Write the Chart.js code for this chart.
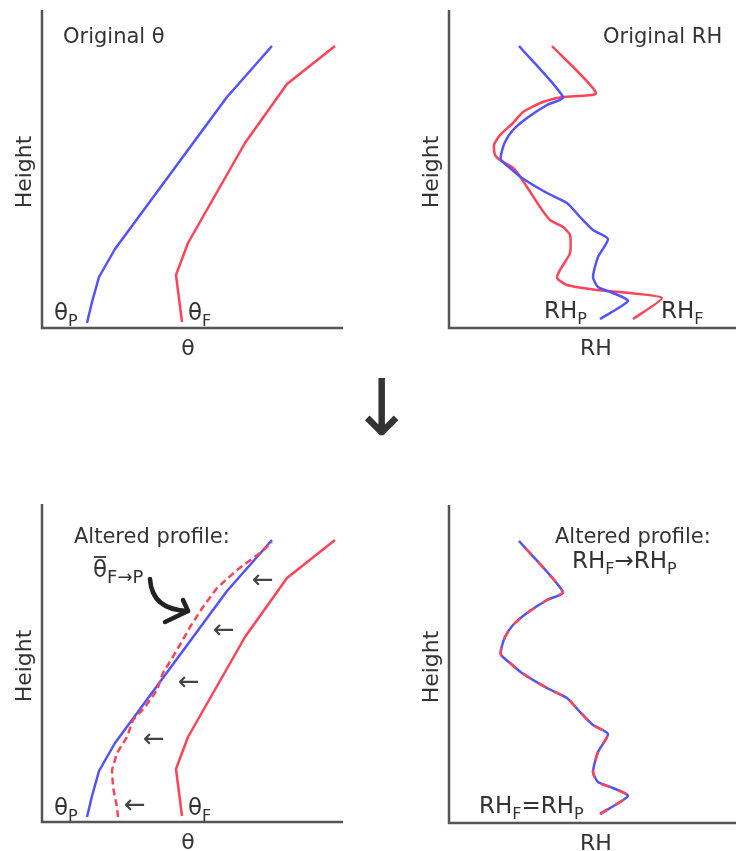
<!DOCTYPE html>
<html>
<head>
<meta charset="utf-8">
<script src="https://cdn.jsdelivr.net/npm/chart.js@4/dist/chart.umd.min.js"></script>
<style>
body { margin: 0; background: #fff; width: 736px; height: 851px; position: relative; overflow: hidden; font-family: "DejaVu Sans"; }
canvas { position: absolute; }
#down { position: absolute; left: 349px; top: 358px; width: 60px; text-align: center; font-size: 78px; line-height: 100px; color: #333; }
</style>
</head>
<body>
<canvas id="thetaOrig" width="368" height="360" style="left:0;top:0"></canvas>
<canvas id="rhOrig" width="368" height="360" style="left:368px;top:0"></canvas>
<div id="down">↓</div>
<canvas id="thetaAlt" width="368" height="361" style="left:0;top:490px"></canvas>
<canvas id="rhAlt" width="368" height="361" style="left:368px;top:490px"></canvas>
<script>
// profiles: x = value measured from the left axis, h = height above the bottom axis
const thetaP_x = [45, 50, 57, 73, 185, 230];
const thetaP_h = [5, 26, 51, 79, 231, 282];
const thetaF_x = [140, 134, 146, 203, 245, 293];
const thetaF_h = [6, 53, 85, 185, 244, 282];
// theta of the F profile shifted onto P (dashed)
const thetaFP_x = [76, 75, 71, 70, 75, 85, 91, 103, 115, 121, 135, 148, 161, 175, 195, 218, 230];
const thetaFP_h = [5, 15, 35, 52, 69, 85, 102, 115, 132, 149, 172, 195, 215, 234, 252, 269, 280];

const rhP_x = [151, 179, 164, 149, 144, 149, 159, 144, 131, 118, 98, 73, 61, 52, 52, 56, 64, 78, 98, 114, 70];
const rhP_h = [9, 27, 35, 41, 51, 71, 89, 98, 111, 125, 135, 150, 160, 168, 173, 186, 198, 210, 223, 231, 282];
const rhF_x = [184, 213, 181, 148, 118, 108, 111, 121, 121, 114, 101, 91, 78, 68, 63, 51, 46, 45, 51, 64, 74, 94, 114, 147, 103];
const rhF_h = [9, 30, 35, 38, 43, 50, 58, 75, 93, 101, 108, 121, 141, 156, 161, 168, 173, 183, 193, 205, 216, 226, 231, 235, 282];

// little shift arrows in the altered theta panel
const shiftArrow_x = [221, 182, 147, 112, 93];
const shiftArrow_h = [241, 191, 139, 82, 16];

const BLUE = '#5252ff';
const RED = '#ff4458';
const INK = '#333';
const FONT = '"DejaVu Sans"';

function pts(xs, hs) {
  return xs.map((x, i) => ({ x: x, y: hs[i] }));
}

function at(chart, x, y) {
  return [chart.scales.x.getPixelForValue(x), chart.scales.y.getPixelForValue(y)];
}

// text with subscripts: parts starting with "_" are subscripted
function rich(ctx, x, y, parts, size, subSize) {
  let cx = x;
  parts.forEach(p => {
    const sub = p.startsWith('_');
    const t = sub ? p.slice(1) : p;
    ctx.font = (sub ? subSize : size) + 'px ' + FONT;
    ctx.fillText(t, cx, sub ? y + size * 0.27 : y);
    cx += ctx.measureText(t).width;
  });
}

function richAt(chart, x, y, parts, size, subSize) {
  const [px, py] = at(chart, x, y);
  const ctx = chart.ctx;
  ctx.fillStyle = INK;
  ctx.textAlign = 'left';
  ctx.textBaseline = 'alphabetic';
  rich(ctx, px, py, parts, size || 23, subSize || 16);
}

function axes(chart, xTitle, titleX) {
  const ctx = chart.ctx;
  const a = chart.chartArea;
  ctx.save();
  ctx.strokeStyle = '#555';
  ctx.lineWidth = 2.5;
  ctx.beginPath();
  ctx.moveTo(a.left, a.top);
  ctx.lineTo(a.left, a.bottom);
  ctx.lineTo(a.right, a.bottom);
  ctx.stroke();

  ctx.fillStyle = INK;
  ctx.font = '22px ' + FONT;
  ctx.textAlign = 'center';
  ctx.textBaseline = 'alphabetic';
  ctx.fillText(xTitle, a.left + titleX, a.bottom + 27);

  ctx.translate(a.left - 17, (a.top + a.bottom) / 2 + 3);
  ctx.rotate(-Math.PI / 2);
  ctx.textBaseline = 'middle';
  ctx.fillText('Height', 0, 0);
  ctx.restore();
}

function makePanel(id, pad, xMax, datasets, xTitle, titleX, decor) {
  new Chart(document.getElementById(id), {
    type: 'line',
    data: { datasets: datasets },
    options: {
      responsive: false,
      animation: false,
      layout: { padding: pad },
      plugins: { legend: { display: false }, tooltip: { enabled: false } },
      scales: {
        x: { type: 'linear', display: false, min: 0, max: xMax },
        y: { type: 'linear', display: false, min: 0, max: 318 }
      },
      elements: {
        point: { radius: 0 },
        line: { borderWidth: 2.5, tension: 0, borderJoinStyle: 'round', fill: false }
      }
    },
    plugins: [{
      id: 'decor',
      beforeDatasetsDraw(chart) {
        axes(chart, xTitle, titleX);
      },
      afterDraw(chart) {
        chart.ctx.save();
        decor(chart);
        chart.ctx.restore();
      }
    }]
  });
}

function line(data, color, dash, tension) {
  return { data: data, borderColor: color, borderDash: dash || [], tension: tension || 0, clip: false };
}

// original theta
makePanel('thetaOrig', { left: 42, top: 10, right: 25, bottom: 32 }, 301, [
  line(pts(thetaP_x, thetaP_h), BLUE),
  line(pts(thetaF_x, thetaF_h), RED)
], 'θ', 146, chart => {
  richAt(chart, 21, 285, ['Original θ'], 21);
  richAt(chart, 12, 8, ['θ', '_P']);
  richAt(chart, 146, 8, ['θ', '_F']);
});

// original RH
makePanel('rhOrig', { left: 81, top: 10, right: 0, bottom: 32 }, 287, [
  line(pts(rhP_x, rhP_h), BLUE, null, 0.2),
  line(pts(rhF_x, rhF_h), RED, null, 0.2)
], 'RH', 147, chart => {
  richAt(chart, 154, 285, ['Original RH'], 21);
  richAt(chart, 95, 10, ['RH', '_P']);
  richAt(chart, 212, 10, ['RH', '_F']);
});

// altered theta: F profile moved onto P
makePanel('thetaAlt', { left: 42, top: 14, right: 25, bottom: 29 }, 301, [
  line(pts(thetaFP_x, thetaFP_h), RED, [7, 4]),
  line(pts(thetaP_x, thetaP_h), BLUE),
  line(pts(thetaF_x, thetaF_h), RED)
], 'θ', 146, chart => {
  const ctx = chart.ctx;
  richAt(chart, 32, 279, ['Altered profile:'], 21);
  richAt(chart, 51, 245, ['θ', '_F→P'], 23, 18);
  // bar over theta
  const [bx, by] = at(chart, 51, 245);
  ctx.font = '23px ' + FONT;
  const w = ctx.measureText('θ').width;
  ctx.strokeStyle = INK;
  ctx.lineWidth = 1.8;
  ctx.beginPath();
  ctx.moveTo(bx + 1, by - 20);
  ctx.lineTo(bx + w - 1, by - 20);
  ctx.stroke();

  richAt(chart, 12, 7, ['θ', '_P']);
  richAt(chart, 146, 7, ['θ', '_F']);

  ctx.fillStyle = '#444';
  ctx.font = '26px ' + FONT;
  ctx.textAlign = 'center';
  ctx.textBaseline = 'middle';
  shiftArrow_x.forEach((x, i) => {
    const [px, py] = at(chart, x, shiftArrow_h[i]);
    ctx.fillText('←', px, py);
  });

  // curved pointer from the label to the dashed profile
  const p0 = at(chart, 108, 243), c = at(chart, 110, 212), tip = at(chart, 146, 211);
  const armA = at(chart, 141, 222), armB = at(chart, 123, 200);
  ctx.strokeStyle = '#222';
  ctx.lineWidth = 4.5;
  ctx.lineCap = 'round';
  ctx.lineJoin = 'round';
  ctx.beginPath();
  ctx.moveTo(p0[0], p0[1]);
  ctx.quadraticCurveTo(c[0], c[1], tip[0], tip[1]);
  ctx.stroke();
  ctx.beginPath();
  ctx.moveTo(armA[0], armA[1]);
  ctx.lineTo(tip[0], tip[1]);
  ctx.lineTo(armB[0], armB[1]);
  ctx.stroke();
});

// altered RH: F replaced by P, the two coincide
makePanel('rhAlt', { left: 81, top: 15, right: 0, bottom: 28 }, 287, [
  line(pts(rhP_x, rhP_h), RED, [9, 9], 0.2),
  line(pts(rhP_x, rhP_h), BLUE, null, 0.2)
], 'RH', 147, chart => {
  richAt(chart, 106, 280, ['Altered profile:'], 21);
  richAt(chart, 123, 255, ['RH', '_F', '→RH', '_P']);
  richAt(chart, 30, 10, ['RH', '_F', '=RH', '_P']);
});
</script>
</body>
</html>
